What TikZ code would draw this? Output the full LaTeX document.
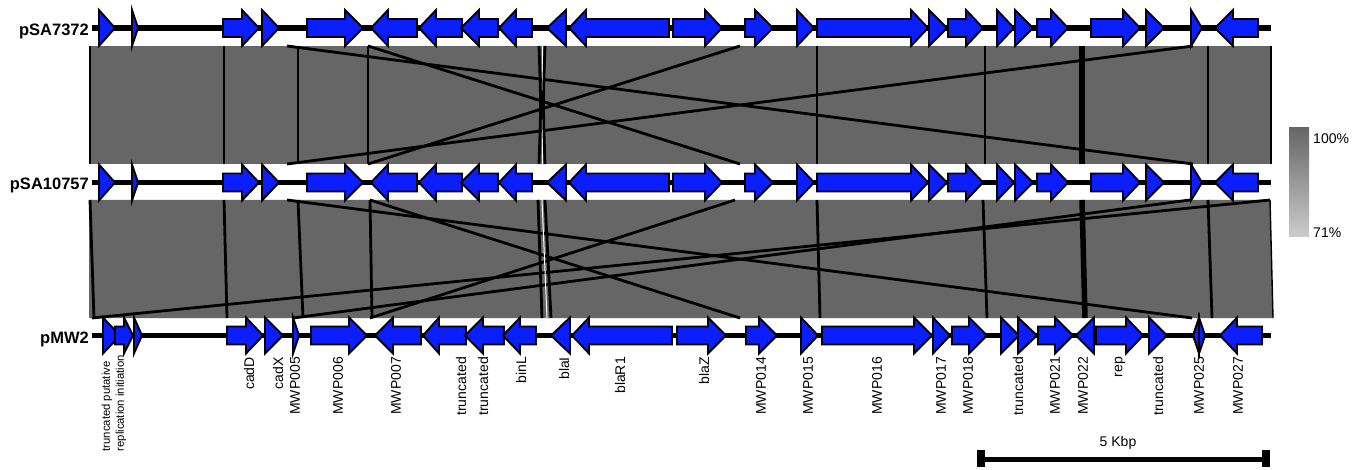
\documentclass[tikz,border=0pt]{standalone}
\usepackage{fontspec}
\setmainfont{Liberation Sans}
\definecolor{geneblue}{RGB}{10,30,255}
\definecolor{hitgray}{RGB}{102,102,102}
\definecolor{lightgray2}{RGB}{204,204,204}
\newcommand{\geneR}[4]{\filldraw[gene] (#1,#4-9) -- (#3,#4-9) -- (#3,#4-18) -- (#2,#4) -- (#3,#4+18) -- (#3,#4+9) -- (#1,#4+9) -- cycle;}
\newcommand{\geneRt}[3]{\filldraw[gene] (#1,#3-18) -- (#2,#3) -- (#1,#3+18) -- cycle;}
\newcommand{\geneL}[4]{\filldraw[gene] (#3,#4-9) -- (#2,#4-9) -- (#2,#4-18) -- (#1,#4) -- (#2,#4+18) -- (#2,#4+9) -- (#3,#4+9) -- cycle;}
\newcommand{\geneLt}[3]{\filldraw[gene] (#2,#3-18) -- (#1,#3) -- (#2,#3+18) -- cycle;}
\newcommand{\stdgenes}[1]{%
\geneRt{99}{115}{#1}
\geneRt{132}{138}{#1}
\geneR{223}{259}{242}{#1}
\geneRt{262}{279}{#1}
\geneR{307}{363}{345}{#1}
\geneL{371}{388}{417}{#1}
\geneL{419}{436}{462}{#1}
\geneL{461}{479}{498}{#1}
\geneL{499}{516}{532}{#1}
\geneLt{547}{566}{#1}
\geneL{569}{586}{669}{#1}
\geneR{673}{722}{705}{#1}
\geneR{745}{773}{755}{#1}
\geneRt{797}{814}{#1}
\geneR{817}{928}{911}{#1}
\geneRt{929}{947}{#1}
\geneR{948}{983}{966}{#1}
\geneRt{997}{1014}{#1}
\geneRt{1015}{1033}{#1}
\geneR{1037}{1068}{1051}{#1}
\geneR{1091}{1140}{1123}{#1}
\geneRt{1146}{1164}{#1}
\geneRt{1191}{1202}{#1}
\geneL{1215}{1233}{1258}{#1}}
\begin{document}
\begin{tikzpicture}[x=1pt,y=-1pt,
  gene/.style={fill=geneblue,draw=black,line width=1.9pt,line join=miter},
  bb/.style={line width=5.5pt},
  hit/.style={line width=2.8pt},
  thinhit/.style={line width=1.4pt},
  glabel/.style={rotate=90,anchor=east,inner sep=0pt,font=\fontsize{14}{16}\selectfont},
  tlabel/.style={anchor=base east,inner sep=0pt,font=\fontsize{16.5}{19}\selectfont\bfseries},
  leglabel/.style={anchor=west,inner sep=0pt,font=\fontsize{14}{16}\selectfont}]
\useasboundingbox (0,0) rectangle (1367,470);
\fill[white] (0,0) rectangle (1367,470);

% ---- comparison band 1 ----
\fill[hitgray] (90,46) rectangle (1271,164);
\draw[thinhit] (90,46) -- (90,164);
\draw[thinhit] (1271,46) -- (1271,164);
\draw[hit] (224,46) -- (224,164);
\draw[hit] (298,46) -- (298,164);
\draw[hit] (287,46) -- (1193,164);
\draw[hit] (287,164) -- (1193,46);
\draw[hit] (368,46) -- (368,164);
\draw[hit] (368,46) -- (740,164);
\draw[hit] (368,164) -- (740,46);
\draw[hit] (539,46) .. controls (541,105) .. (539,164);
\draw[white,line width=1pt] (542,46) -- (542,164);
\draw[hit] (545,46) .. controls (543,105) .. (545,164);
\draw[hit] (817,46) -- (817,164);
\draw[hit] (985,46) -- (985,164);
\draw[line width=5.5pt] (1082,46) -- (1082,164);
\draw[hit] (1208,46) -- (1208,164);

% ---- comparison band 2 ----
\fill[hitgray] (89,200) -- (1270,200) -- (1273,318) -- (89,318) -- cycle;
\draw[hit] (90,200) -- (94,318);
\draw[thinhit] (1270,200) -- (1273,318);
\draw[hit] (224,200) -- (227,318);
\draw[hit] (298,200) -- (303,318);
\draw[hit] (370,200) -- (372,318);
\draw[hit] (287,200) -- (1192,318);
\draw[hit] (370,200) -- (740,318);
\draw[hit] (370,318) -- (735,200);
\draw[hit] (293,318) -- (1190,200);
\draw[hit] (92,318) -- (1270,200);
\draw[hit] (538,200) -- (542,318);
\draw[white,line width=1pt] (542,200) -- (547,318);
\draw[hit] (545,200) -- (551,318);
\draw[hit] (817,200) -- (820,318);
\draw[hit] (983,200) -- (987,318);
\draw[line width=5.5pt] (1082,200) -- (1085,318);
\draw[hit] (1208,200) -- (1212,318);

% ---- tracks ----
\draw[bb] (92,28) -- (1271,28);
\stdgenes{28}
\node[tlabel] (t1) at (89,35.5) {pSA7372};

\draw[bb] (92,182.5) -- (1271,182.5);
\stdgenes{182.5}
\node[tlabel] (t2) at (89,190) {pSA10757};

\draw[bb] (92,335.5) -- (1271,335.5);
\geneRt{103}{120}{335.5}
\geneR{115}{133}{124}{335.5}
\geneRt{134}{142}{335.5}
\geneR{227}{263}{246}{335.5}
\geneRt{265}{283}{335.5}
\geneRt{293}{299}{335.5}
\geneR{311}{367}{349}{335.5}
\geneL{375}{393}{421}{335.5}
\geneL{423}{439}{466}{335.5}
\geneL{465}{483}{504}{335.5}
\geneL{503}{520}{536}{335.5}
\geneLt{551}{570}{335.5}
\geneL{572}{589}{672}{335.5}
\geneR{677}{726}{708}{335.5}
\geneR{746}{777}{759}{335.5}
\geneRt{801}{818}{335.5}
\geneR{822}{932}{914}{335.5}
\geneRt{933}{950}{335.5}
\geneR{952}{987}{969}{335.5}
\geneRt{1001}{1019}{335.5}
\geneRt{1018}{1037}{335.5}
\geneR{1038}{1073}{1055}{335.5}
\geneLt{1076}{1094}{335.5}
\geneR{1096}{1143}{1126}{335.5}
\geneRt{1149}{1167}{335.5}
\geneLt{1193}{1199}{335.5}
\geneRt{1199}{1205}{335.5}
\geneL{1220}{1237}{1262}{335.5}
\node[tlabel] (t3) at (89,343) {pMW2};

% ---- gene labels ----
\node[glabel,align=left,font=\fontsize{11.3}{14}\selectfont] (l1) at (114,355) {truncated putative\\replication initiation};
\node[glabel] (l2) at (249,357) {cadD};
\node[glabel] (l3) at (278,357) {cadX};
\node[glabel] (l4) at (295,357) {MWP005};
\node[glabel] (l5) at (338,357) {MWP006};
\node[glabel] (l6) at (396,357) {MWP007};
\node[glabel] (l7) at (461,357) {truncated};
\node[glabel] (l8) at (483,357) {truncated};
\node[glabel] (l9) at (521,357) {binL};
\node[glabel] (l10) at (564,357) {blaI};
\node[glabel] (l11) at (620,357) {blaR1};
\node[glabel] (l12) at (704,357) {blaZ};
\node[glabel] (l13) at (761,357) {MWP014};
\node[glabel] (l14) at (808,357) {MWP015};
\node[glabel] (l15) at (877,357) {MWP016};
\node[glabel] (l16) at (941,357) {MWP017};
\node[glabel] (l17) at (968,357) {MWP018};
\node[glabel] (l18) at (1018,357) {truncated};
\node[glabel] (l19) at (1055,357) {MWP021};
\node[glabel] (l20) at (1083,357) {MWP022};
\node[glabel] (l21) at (1120,357) {rep};
\node[glabel] (l22) at (1158,357) {truncated};
\node[glabel] (l23) at (1199,357) {MWP025};
\node[glabel] (l24) at (1238,357) {MWP027};

% ---- legend ----
\shade[top color=hitgray,bottom color=lightgray2] (1289,128) rectangle (1309,237);
\node[leglabel] (lg1) at (1313,139) {100\%};
\node[leglabel] (lg2) at (1313,233) {71\%};

% ---- scale bar ----
\coordinate (sbL) at (977,459);
\coordinate (sbR) at (1270,459);
\draw[line width=5pt] (sbL) -- (sbR);
\fill (977,450) rectangle (985,467);
\fill (1262,450) rectangle (1270,467);
\node[inner sep=0pt,font=\fontsize{14}{16}\selectfont] (sb) at (1118,443) {5 Kbp};
\end{tikzpicture}
\end{document}
